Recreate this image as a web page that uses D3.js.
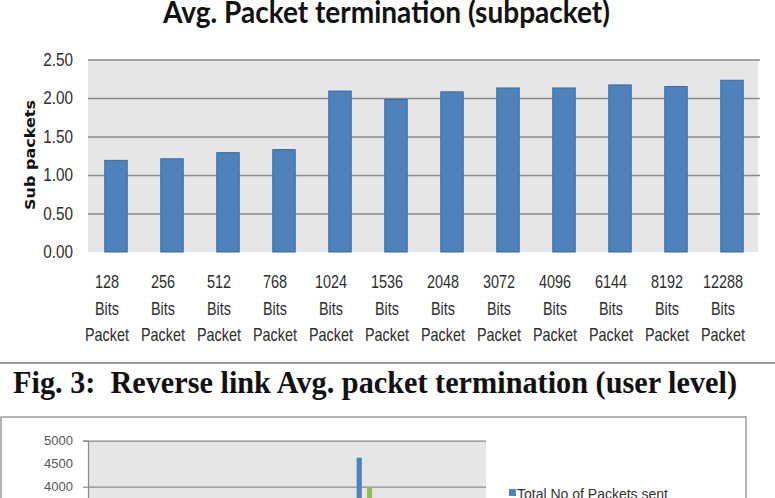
<!DOCTYPE html>
<html>
<head>
<meta charset="utf-8">
<script src="https://cdnjs.cloudflare.com/ajax/libs/d3/7.8.5/d3.min.js"></script>
<style>
  body { margin: 0; background: #ffffff; }
  svg { display: block; }
</style>
</head>
<body>
<script>
//Packet sizes along the bottom of the top chart
var packetSizes = ["128", "256", "512", "768", "1024", "1536", "2048", "3072", "4096", "6144", "8192", "12288"];
//Average number of sub packets for each packet size
var subPackets = [1.19, 1.21, 1.29, 1.33, 2.09, 1.98, 2.08, 2.13, 2.13, 2.17, 2.15, 2.23];
var subTicks = [0, 0.5, 1, 1.5, 2, 2.5];

//Lower chart, only its top slice shows on the page
var userCategories = ["1", "2", "3", "4", "5", "6", "7", "8", "9", "10", "11", "12", "13", "14", "15", "16", "17", "18"];
var userSeries = ["Total No of Packets sent", "Series 2", "Series 3"];
var userBarCategory = ["13", "13"];
var userBarSeries = ["Total No of Packets sent", "Series 3"];
var userBarValues = [4630, 3990];
var userTicks = [4000, 4500, 5000];
var userGrid = [4000, 5000];

//This is the main function for the page.
function main(){

  var w = 775;
  var h = 498;
  var sans = "'Liberation Sans', Arial, sans-serif";
  //the scanned labels are squeezed sideways, so the text gets squeezed too
  var squeezeX = 0.8;
  var squeezeY = 0.85;

  var svg = d3.select("body")
              .append("svg")
              .attr("width", w)
              .attr("height", h);

  //---------- top chart ----------
  var x = d3.scaleBand()
            .domain(packetSizes)
            .range([88, 760])
            .paddingInner(0.6)
            .paddingOuter(0.3);
  var y = d3.scaleLinear()
            .domain([0, 2.5])
            .range([252, 59.5]);

  svg.append("text")
    .attr("x", 163)
    .attr("y", 23)
    .attr("textLength", 447)
    .attr("lengthAdjust", "spacingAndGlyphs")
    .attr("font-family", "Lato, 'Open Sans', sans-serif")
    .attr("font-weight", "bold")
    .attr("font-size", 31)
    .attr("fill", "#111")
    .text("Avg. Packet termination (subpacket)");

  //grey plot area
  svg.append("rect")
    .attr("x", 88)
    .attr("y", y(2.5))
    .attr("width", 670)
    .attr("height", y(0) - y(2.5))
    .attr("fill", "#e6e6e6");

  //gridlines
  svg.append("g")
    .attr("transform", "translate(88,0)")
    .call(d3.axisLeft(y).tickValues(subTicks.slice(1)).tickSize(-672).tickFormat(""))
    .call(function(g){
      g.select(".domain").remove();
      g.selectAll(".tick line").attr("stroke", "#8a8a8a").attr("stroke-width", 1.4);
    });

  //y tick labels
  svg.append("g")
    .attr("transform", "translate(88,0)")
    .call(d3.axisLeft(y).tickValues(subTicks).tickSize(0).tickPadding(15).tickFormat(d3.format(".2f")))
    .call(function(g){
      g.select(".domain").remove();
      g.selectAll(".tick text")
        .attr("x", -15 / squeezeY)
        .attr("transform", "scale(" + squeezeY + ",1)")
        .attr("font-family", sans)
        .attr("font-size", 18)
        .attr("fill", "#2e2e2e");
    });

  //y axis title
  svg.append("text")
    .attr("transform", "translate(35,210) rotate(-90)")
    .attr("textLength", 110)
    .attr("lengthAdjust", "spacingAndGlyphs")
    .attr("font-family", "'DejaVu Sans', sans-serif")
    .attr("font-weight", "bold")
    .attr("font-size", 14)
    .attr("fill", "#111")
    .text("Sub packets");

  //bars
  svg.selectAll("rect.bar")
    .data(subPackets)
    .enter()
    .append("rect")
    .attr("class", "bar")
    .attr("x", function(d, i){ return x(packetSizes[i]); })
    .attr("y", function(d){ return y(d); })
    .attr("width", x.bandwidth())
    .attr("height", function(d){ return y(0) - y(d); })
    .attr("fill", "#4f81bd")
    .attr("stroke", "#3b679c")
    .attr("stroke-width", 1);

  //x labels on three lines
  svg.append("g")
    .attr("transform", "translate(0,252)")
    .call(d3.axisBottom(x).tickSize(0))
    .call(function(g){
      g.select(".domain").remove();
      g.selectAll(".tick text")
        .attr("dy", null)
        .attr("y", null)
        .attr("transform", "scale(" + squeezeX + ",1)")
        .attr("font-family", sans)
        .attr("font-size", 18)
        .attr("fill", "#2e2e2e")
        .text(null)
        .selectAll("tspan")
        .data(function(d){ return [d, "Bits", "Packet"]; })
        .enter()
        .append("tspan")
        .attr("x", -9 / squeezeX)
        .attr("y", function(d, i){ return 36 + i * 26.7; })
        .text(function(d){ return d; });
    });

  //---------- divider and caption ----------
  svg.append("line")
    .attr("x1", 0).attr("x2", w)
    .attr("y1", 363).attr("y2", 363)
    .attr("stroke", "#9a9a9a")
    .attr("stroke-width", 2);

  svg.append("text")
    .attr("x", 13)
    .attr("y", 393)
    .attr("textLength", 724)
    .attr("lengthAdjust", "spacingAndGlyphs")
    .attr("font-family", "'Liberation Serif', 'Times New Roman', serif")
    .attr("font-weight", "bold")
    .attr("font-size", 31)
    .attr("fill", "#111")
    .style("white-space", "pre")
    .text("Fig. 3:  Reverse link Avg. packet termination (user level)");

  //---------- lower chart (cut off by the page) ----------
  svg.append("rect")
    .attr("x", 1)
    .attr("y", 417)
    .attr("width", 745)
    .attr("height", 120)
    .attr("fill", "none")
    .attr("stroke", "#9a9a9a")
    .attr("stroke-width", 1.5);

  var x2 = d3.scaleBand()
             .domain(userCategories)
             .range([88, 486])
             .paddingInner(0.3)
             .paddingOuter(0.15);
  var xs = d3.scaleBand()
             .domain(userSeries)
             .range([0, x2.bandwidth()]);
  var y2 = d3.scaleLinear()
             .domain([0, 5000])
             .range([670.7, 440.7]);
  var colors = d3.scaleOrdinal()
                 .domain(userSeries)
                 .range(["#4f81bd", "#c0504d", "#9bbb59"]);

  svg.append("rect")
    .attr("x", 88)
    .attr("y", y2(5000))
    .attr("width", 398)
    .attr("height", y2(0) - y2(5000))
    .attr("fill", "#e6e6e6");

  svg.append("g")
    .attr("transform", "translate(88,0)")
    .call(d3.axisLeft(y2).tickValues(userGrid).tickSize(-398).tickFormat(""))
    .call(function(g){
      g.select(".domain").remove();
      g.selectAll(".tick line").attr("stroke", "#8a8a8a").attr("stroke-width", 1.3);
    });

  //little tick marks left of the axis
  svg.append("g")
    .attr("transform", "translate(88,0)")
    .call(d3.axisLeft(y2).tickValues(userGrid).tickSize(5).tickFormat(""))
    .call(function(g){
      g.select(".domain").attr("stroke", "#8a8a8a").attr("stroke-width", 1.2);
      g.selectAll(".tick line").attr("stroke", "#8a8a8a").attr("stroke-width", 1.2);
    });

  svg.append("g")
    .attr("transform", "translate(88,0)")
    .call(d3.axisLeft(y2).tickValues(userTicks).tickSize(0).tickPadding(15).tickFormat(d3.format("d")))
    .call(function(g){
      g.select(".domain").remove();
      g.selectAll(".tick text")
        .attr("font-family", sans)
        .attr("font-size", 13)
        .attr("fill", "#555");
    });

  svg.selectAll("rect.ubar")
    .data(userBarValues)
    .enter()
    .append("rect")
    .attr("class", "ubar")
    .attr("x", function(d, i){ return x2(userBarCategory[i]) + xs(userBarSeries[i]); })
    .attr("y", function(d){ return y2(d); })
    .attr("width", xs.bandwidth())
    .attr("height", function(d){ return y2(0) - y2(d); })
    .attr("fill", function(d, i){ return colors(userBarSeries[i]); });

  //legend, only first entry reaches the page
  svg.append("rect")
    .attr("x", 509)
    .attr("y", 489)
    .attr("width", 7)
    .attr("height", 7)
    .attr("fill", colors(userSeries[0]));

  svg.append("text")
    .attr("x", 517)
    .attr("y", 499)
    .attr("font-family", sans)
    .attr("font-size", 14)
    .attr("fill", "#333")
    .text(userSeries[0]);
}

//Run once the page has loaded.
window.onload = function() {
  main();
};
</script>
</body>
</html>
